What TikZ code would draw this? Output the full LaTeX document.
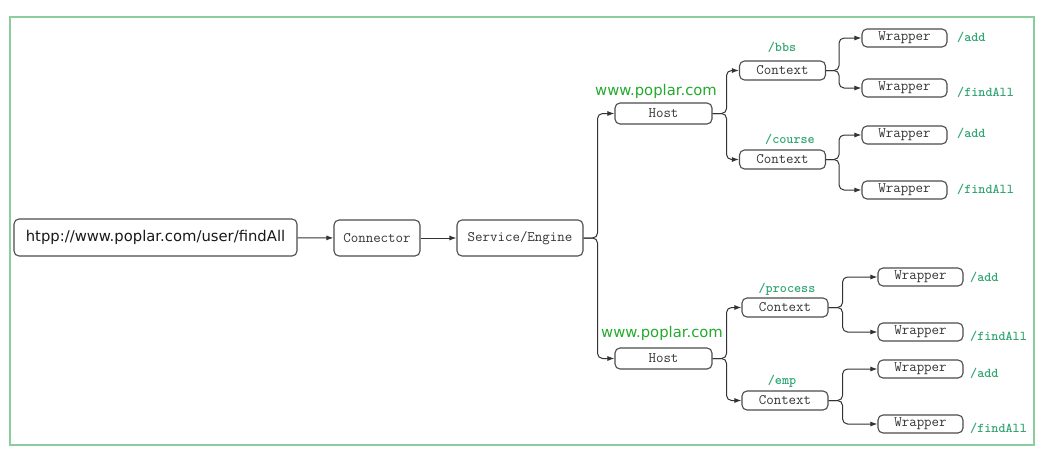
\documentclass[tikz,border=0pt]{standalone}
\usepackage{fontspec}
\setmainfont{DejaVu Sans}
\usetikzlibrary{arrows.meta}
\definecolor{frameGreen}{RGB}{140,205,160}
\definecolor{pathGreen}{RGB}{50,165,115}
\definecolor{hostGreen}{RGB}{35,170,45}
\tikzset{
  box/.style={draw=black!70, line width=1.1pt, rounded corners=5pt, inner sep=0pt,
    font=\ttfamily\fontsize{14.5}{14.5}\selectfont, text=black!80},
  link/.style={draw=black!80, line width=1pt, rounded corners=5pt,
    -{Latex[length=7pt,width=5pt]}},
  pathlabel/.style={font=\ttfamily\bfseries\fontsize{13.5}{13.5}\selectfont, text=pathGreen},
  hostlabel/.style={font=\fontsize{14.8}{14.8}\selectfont, text=hostGreen}
}
\begin{document}
\begin{tikzpicture}[x=1pt,y=-1pt]
    \pgfmathsetmacro{\wrapperwidth}{85}
    \pgfmathsetmacro{\wrapperheight}{18}
    \pgfmathsetmacro{\contextwidth}{86}
    \pgfmathsetmacro{\contextheight}{19}
    \useasboundingbox (0,0) rectangle (1050,469);
    \draw[frameGreen,line width=1.2pt] (10,17) rectangle (1034,445);
    % request, connector and engine
    \node[box,minimum width=283,minimum height=37,font=\fontsize{14.8}{14.8}\selectfont,text=black!90] (url) at (155.5,237.5) {htpp://www.poplar.com/user/findAll};
    \node[box,minimum width=86,minimum height=36] (connector) at (377,238) {Connector};
    \node[box,minimum width=126,minimum height=36] (service) at (520,238) {Service/Engine};
    % hosts
    \node[box,minimum width=97,minimum height=21] (hostA) at (663.5,113.5) {Host};
    \node[box,minimum width=97,minimum height=21] (hostB) at (663.5,358.5) {Host};
    \node[hostlabel] (hostAname) at (656,91) {www.poplar.com};
    \node[hostlabel] (hostBname) at (662,333) {www.poplar.com};
    % contexts
    \node[box,minimum width=\contextwidth,minimum height=\contextheight] (ctxBbs) at (782.5,70.5) {Context};
    \node[box,minimum width=\contextwidth,minimum height=\contextheight] (ctxCourse) at (782.5,159.5) {Context};
    \node[box,minimum width=\contextwidth,minimum height=\contextheight] (ctxProcess) at (785,307.5) {Context};
    \node[box,minimum width=\contextwidth,minimum height=\contextheight] (ctxEmp) at (785,400.5) {Context};
    \node[pathlabel] (bbs) at (782,47) {/bbs};
    \node[pathlabel] (course) at (790,139) {/course};
    \node[pathlabel] (process) at (787,289) {/process};
    \node[pathlabel] (emp) at (782,381) {/emp};
    % wrappers
    \foreach \name/\x/\y in {wrapA/904.5/38, wrapB/904.5/88, wrapC/904.5/135, wrapD/904.5/190,
                             wrapE/920.5/277, wrapF/920.5/332, wrapG/920.5/369, wrapH/920.5/424}
        \node[box,minimum width=\wrapperwidth,minimum height=\wrapperheight] (\name) at (\x,\y) {Wrapper};
    \foreach \name/\x/\y/\txt in {addA/957/37/{/add}, findA/957/92/{/findAll}, addB/957/133/{/add}, findB/957/189/{/findAll},
                                  addC/970/277/{/add}, findC/970/336/{/findAll}, addD/970/373/{/add}, findD/970/428/{/findAll}}
        \node[pathlabel,anchor=west,inner sep=0pt] (\name) at (\x,\y) {\txt};
    % connectors
    \draw[link] (url) -- (connector);
    \draw[link] (connector) -- (service);
    \draw[link] (service.east) -- ++(14,0) |- (hostA.west);
    \draw[link] (service.east) -- ++(14,0) |- (hostB.west);
    \draw[link] (hostA.east) -- ++(14,0) |- (ctxBbs.west);
    \draw[link] (hostA.east) -- ++(14,0) |- (ctxCourse.west);
    \draw[link] (hostB.east) -- ++(14,0) |- (ctxProcess.west);
    \draw[link] (hostB.east) -- ++(14,0) |- (ctxEmp.west);
    \draw[link] (ctxBbs.east) -- ++(13,0) |- (wrapA.west);
    \draw[link] (ctxBbs.east) -- ++(13,0) |- (wrapB.west);
    \draw[link] (ctxCourse.east) -- ++(13,0) |- (wrapC.west);
    \draw[link] (ctxCourse.east) -- ++(13,0) |- (wrapD.west);
    \draw[link] (ctxProcess.east) -- ++(14,0) |- (wrapE.west);
    \draw[link] (ctxProcess.east) -- ++(14,0) |- (wrapF.west);
    \draw[link] (ctxEmp.east) -- ++(14,0) |- (wrapG.west);
    \draw[link] (ctxEmp.east) -- ++(14,0) |- (wrapH.west);
\end{tikzpicture}
\end{document}
